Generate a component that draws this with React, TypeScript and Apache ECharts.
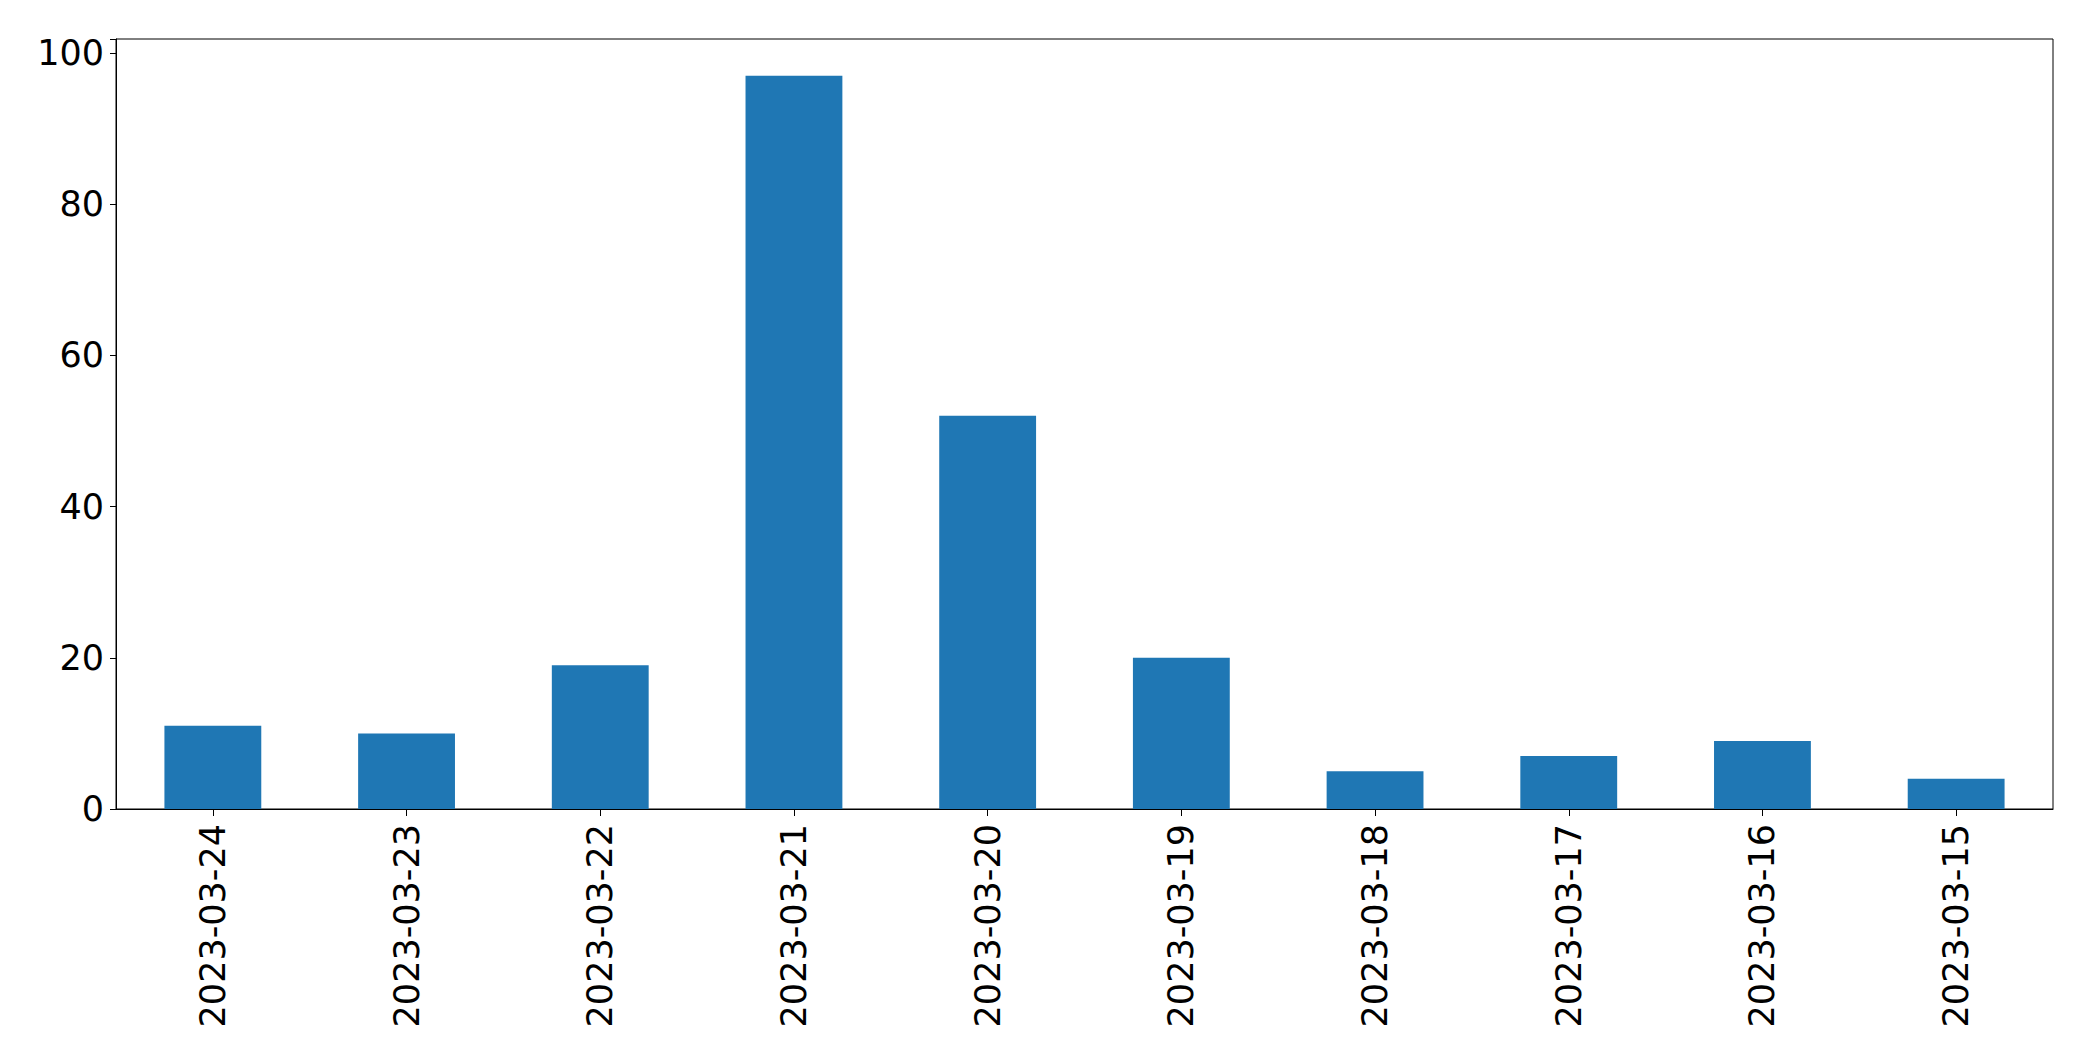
import React, { useEffect, useRef } from "react";
import * as echarts from "echarts";

const categories = [
  "2023-03-24", "2023-03-23", "2023-03-22", "2023-03-21", "2023-03-20",
  "2023-03-19", "2023-03-18", "2023-03-17", "2023-03-16", "2023-03-15",
];
const counts = [11, 10, 19, 97, 52, 20, 5, 7, 9, 4];
const yTicks = [0, 20, 40, 60, 80, 100];

export default function App() {
  const ref = useRef<HTMLDivElement>(null);
  useEffect(() => {
    if (!ref.current) return;
    const chart = echarts.init(ref.current, null, { renderer: "svg" });
    const font = "DejaVu Sans";
    const yMax = Math.max(...counts) * 1.05;
    chart.setOption({
      animation: false,
      backgroundColor: "#ffffff",
      grid: {
        left: 116,
        right: 40,
        top: 39,
        bottom: 252,
        show: true,
        borderColor: "#000000",
        borderWidth: 1,
        containLabel: false,
      },
      xAxis: {
        type: "category",
        data: categories,
        axisLine: { show: true, lineStyle: { color: "#000", width: 1 } },
        axisTick: { show: true, alignWithLabel: true, length: 7, lineStyle: { color: "#000" } },
        axisLabel: {
          rotate: 90,
          interval: 0,
          margin: 15,
          fontFamily: font,
          fontSize: 35,
          color: "#000",
        },
        splitLine: { show: false },
      },
      yAxis: {
        type: "value",
        min: 0,
        max: yMax,
        interval: 20,
        axisLine: { show: true, lineStyle: { color: "#000", width: 1 } },
        axisTick: { show: true, length: 6, lineStyle: { color: "#000" } },
        axisLabel: {
          margin: 12,
          fontFamily: font,
          fontSize: 35,
          color: "#000",
          formatter: (v: number) => (yTicks.includes(v) ? String(v) : ""),
        },
        splitLine: { show: false },
      },
      series: [
        {
          type: "bar",
          data: counts,
          barCategoryGap: "50%",
          itemStyle: { color: "#1f77b4" },
        },
      ],
    });
    return () => chart.dispose();
  }, []);
  return (
    <div
      ref={ref}
      style={{ position: "fixed", left: 0, top: 0, width: 2093, height: 1061, background: "#fff" }}
    />
  );
}
